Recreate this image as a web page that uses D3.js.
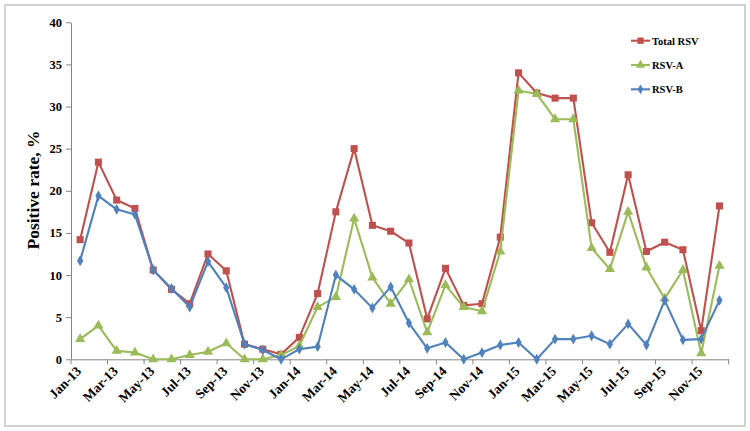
<!DOCTYPE html>
<html><head><meta charset="utf-8">
<script src="https://cdn.jsdelivr.net/npm/d3@7"></script>
<style>body{margin:0;background:#fff}</style>
</head><body>
<svg id="c" width="750" height="431"></svg>
<script>
const months = ["Jan-13","Feb-13","Mar-13","Apr-13","May-13","Jun-13","Jul-13","Aug-13","Sep-13","Oct-13","Nov-13","Dec-13",
"Jan-14","Feb-14","Mar-14","Apr-14","May-14","Jun-14","Jul-14","Aug-14","Sep-14","Oct-14","Nov-14","Dec-14",
"Jan-15","Feb-15","Mar-15","Apr-15","May-15","Jun-15","Jul-15","Aug-15","Sep-15","Oct-15","Nov-15","Dec-15"];
const tickLabels = months.filter((m,i)=>i%2===0);
const totalRSV = [14.2,23.4,18.9,17.9,10.6,8.3,6.6,12.5,10.5,1.8,1.2,0.6,
2.6,7.8,17.5,25.0,15.9,15.2,13.8,4.8,10.8,6.4,6.6,14.5,
34.0,31.6,31.0,31.0,16.2,12.7,21.9,12.8,13.9,13.0,3.4,18.2];
const rsvA = [2.4,4.0,1.0,0.8,0,0,0.5,0.9,1.9,0,0,0.5,
1.6,6.2,7.4,16.7,9.7,6.6,9.5,3.2,8.8,6.2,5.7,12.8,
31.9,31.5,28.5,28.5,13.2,10.7,17.5,10.9,7.2,10.6,0.7,11.1];
const rsvB = [11.7,19.4,17.8,17.2,10.6,8.4,6.2,11.6,8.5,1.8,1.1,0,
1.2,1.5,10.0,8.3,6.1,8.6,4.3,1.3,2.0,0,0.8,1.7,
2.0,0,2.4,2.4,2.8,1.8,4.2,1.7,7.0,2.3,2.4,7.0];
const yTicks = [0,5,10,15,20,25,30,35,40];
const seriesNames = ["Total RSV","RSV-A","RSV-B"];
const seriesColors = ["#C0504D","#9BBB59","#4F81BD"];

const svg = d3.select("#c");
const font = "'Liberation Serif','Times New Roman',serif";
svg.append("rect").attr("x",5).attr("y",5).attr("width",740).attr("height",421)
  .attr("fill","#fff").attr("stroke","#c4c4c4").attr("stroke-width",1.5);

const x = d3.scaleBand().domain(months).range([71,728.6]);
const y = d3.scaleLinear().domain([0,40]).range([359.3,22.3]);
const cx = m => x(m)+x.bandwidth()/2;

// y axis
const ya = svg.append("g").attr("transform","translate(71,0)")
  .call(d3.axisLeft(y).tickValues(yTicks).tickSize(5).tickPadding(4).tickSizeOuter(0));
ya.select(".domain").attr("stroke","#868686");
ya.selectAll(".tick line").attr("stroke","#868686");
ya.selectAll(".tick text").attr("font-family",font).attr("font-weight","bold").attr("font-size",12.5).attr("fill","#000");

// x axis
const xa = svg.append("g").attr("transform","translate(0,359.3)")
  .call(d3.axisBottom(x).tickValues([]).tickSizeOuter(0));
xa.select(".domain").attr("stroke","#868686");
const bounds = d3.range(0,37,2);
xa.selectAll("line.bt").data(bounds).enter().append("line").attr("class","bt")
  .attr("x1",i=>71+i*x.step()).attr("x2",i=>71+i*x.step()).attr("y1",0).attr("y2",5).attr("stroke","#868686");
svg.append("g").selectAll("text").data(tickLabels).enter().append("text")
  .attr("transform",d=>`translate(${cx(d)+2},${372}) rotate(-45)`)
  .attr("text-anchor","end").attr("font-family",font).attr("font-weight","bold").attr("font-size",13.5)
  .attr("fill","#000").text(d=>d);

// y title
svg.append("text").attr("transform","translate(39,190) rotate(-90)").attr("text-anchor","middle")
  .attr("font-family",font).attr("font-weight","bold").attr("font-size",17.5).attr("fill","#000")
  .text("Positive rate, %");

const data = [totalRSV, rsvA, rsvB];
const line = d3.line().x((d,i)=>cx(months[i])).y(d=>y(d));
const shapes = [d3.symbolSquare, d3.symbolTriangle, d3.symbolDiamond];
const sizes = [50, 45, 34];
data.forEach((vals,s)=>{
  const g = svg.append("g");
  g.append("path").datum(vals).attr("d",line).attr("fill","none")
    .attr("stroke",seriesColors[s]).attr("stroke-width",2.1).attr("stroke-linejoin","round");
  g.selectAll("path.m").data(vals).enter().append("path").attr("class","m")
    .attr("transform",(d,i)=>`translate(${cx(months[i])},${y(d)})`)
    .attr("d",d3.symbol(shapes[s],sizes[s])).attr("fill",seriesColors[s]);
});

// legend
const lg = svg.append("g");
seriesNames.forEach((n,s)=>{
  const ly = 40.7 + s*24.3;
  lg.append("line").attr("x1",631).attr("x2",650).attr("y1",ly).attr("y2",ly)
    .attr("stroke",seriesColors[s]).attr("stroke-width",2.1);
  lg.append("path").attr("transform",`translate(640.5,${ly})`).attr("d",d3.symbol(shapes[s],sizes[s]*0.8)).attr("fill",seriesColors[s]);
  lg.append("text").attr("x",652).attr("y",ly+4).attr("font-family",font).attr("font-weight","bold")
    .attr("font-size",10.5).attr("fill","#000").text(n);
});
</script>
</body></html>
